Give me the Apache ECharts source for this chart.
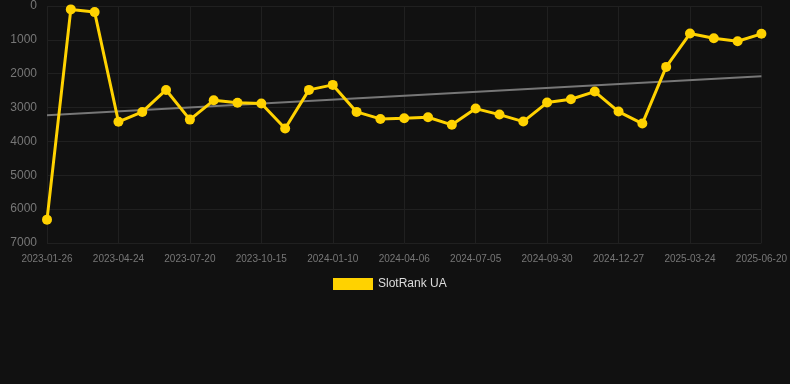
<!DOCTYPE html>
<html>
<head>
<meta charset="utf-8">
<script src="https://cdn.jsdelivr.net/npm/echarts@6/dist/echarts.min.js"></script>
<style>
html,body{margin:0;padding:0;background:#111111;}
#chart{width:790px;height:384px;}
</style>
</head>
<body>
<div id="chart"></div>
<script>
const categories = [
  '2023-01-26','2023-02-24','2023-03-25','2023-04-24','2023-05-23','2023-06-21',
  '2023-07-20','2023-08-18','2023-09-16','2023-10-15','2023-11-13','2023-12-12',
  '2024-01-10','2024-02-08','2024-03-08','2024-04-06','2024-05-06','2024-06-05',
  '2024-07-05','2024-08-03','2024-09-01','2024-09-30','2024-10-29','2024-11-28',
  '2024-12-27','2025-01-25','2025-02-23','2025-03-24','2025-04-22','2025-05-21',
  '2025-06-20'
];
const rankValues = [
  6310, 100, 180, 3420, 3130, 2480,
  3355, 2785, 2860, 2880, 3620, 2478,
  2330, 3128, 3335, 3315, 3286, 3510,
  3030, 3207, 3414, 2852, 2754, 2527,
  3118, 3473, 1798, 813, 951, 1040,
  822
];
const trendStart = 3230;
const trendEnd = 2075;
const yTicks = [0, 1000, 2000, 3000, 4000, 5000, 6000, 7000];

const trendData = categories.map((c, i) => i === 0 ? trendStart : (i === categories.length - 1 ? trendEnd : null));

const chart = echarts.init(document.getElementById('chart'));
chart.setOption({
  backgroundColor: '#111111',
  animation: false,
  grid: { left: 47, right: 28, top: 6, bottom: 141, containLabel: false },
  legend: {
    data: [{ name: 'SlotRank UA', icon: 'rect' }],
    left: 328,
    top: 273,
    itemWidth: 40,
    itemHeight: 12,
    itemGap: 10,
    textStyle: { color: '#dddddd', fontSize: 12, fontFamily: 'Liberation Sans, Arial, sans-serif' }
  },
  xAxis: {
    type: 'category',
    data: categories,
    boundaryGap: false,
    axisLine: { show: false },
    axisTick: { show: true, interval: 2, length: 6, lineStyle: { color: '#202020' } },
    axisLabel: { interval: 2, color: '#777777', fontSize: 10, margin: 11, fontFamily: 'Liberation Sans, Arial, sans-serif' },
    splitLine: { show: true, interval: 2, lineStyle: { color: '#202020', width: 1 } }
  },
  yAxis: {
    type: 'value',
    inverse: true,
    min: yTicks[0],
    max: yTicks[yTicks.length - 1],
    interval: 1000,
    axisLine: { show: false },
    axisTick: { show: false },
    axisLabel: { color: '#777777', fontSize: 12, margin: 10, fontFamily: 'Liberation Sans, Arial, sans-serif', formatter: (v) => String(v) },
    splitLine: { show: true, lineStyle: { color: '#202020', width: 1 } }
  },
  series: [
    {
      name: 'trend',
      type: 'line',
      data: trendData,
      connectNulls: true,
      symbol: 'none',
      lineStyle: { color: '#777777', width: 2 },
      silent: true,
      z: 1
    },
    {
      name: 'SlotRank UA',
      type: 'line',
      data: rankValues,
      symbol: 'circle',
      symbolSize: 10,
      color: '#FFD200',
      itemStyle: { color: '#FFD200' },
      lineStyle: { color: '#FFD200', width: 3 },
      z: 3
    }
  ]
});
</script>
</body>
</html>
